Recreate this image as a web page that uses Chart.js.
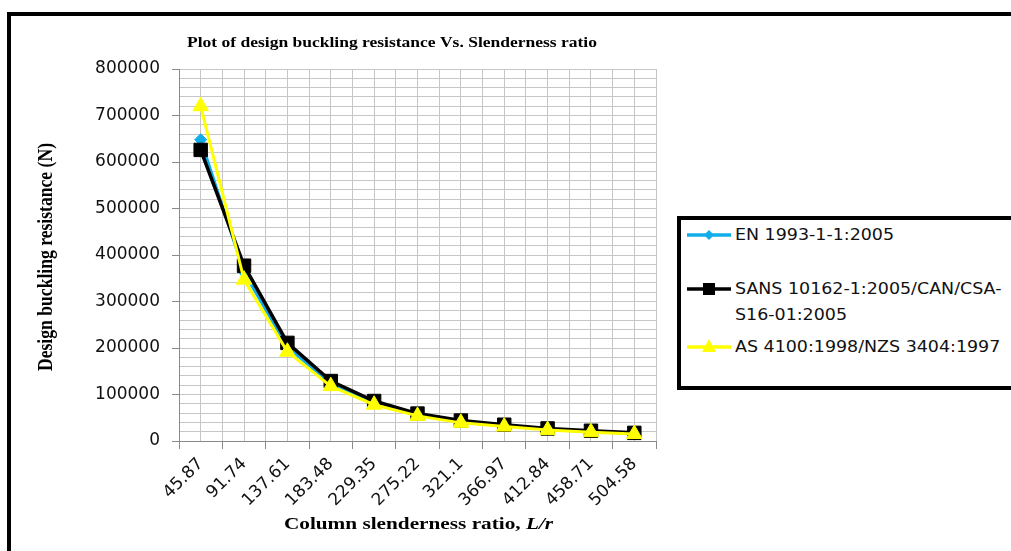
<!DOCTYPE html>
<html>
<head>
<meta charset="utf-8">
<script src="https://cdn.jsdelivr.net/npm/chart.js"></script>
<style>
body { margin: 0; background: #fff; }
#wrap { position: relative; width: 1011px; height: 551px; overflow: hidden; }
#frame { position: absolute; left: 7px; top: 12px; width: 1100px; height: 700px; border: 4px solid #000; box-sizing: border-box; }
#chart { position: absolute; left: 0; top: 0; }
#legend { position: absolute; left: 677px; top: 216px; width: 340px; height: 174px; border: 4px solid #000;
  box-sizing: border-box; background: #fff; font-family: 'DejaVu Sans'; font-size: 16px; color: #111; }
.item { position: absolute; left: 6px; display: flex; align-items: flex-start; line-height: 26px; white-space: nowrap; }
.item svg { flex: none; margin-right: 4px; }
.item div { transform: scaleX(1.09); transform-origin: left center; }
</style>
</head>
<body>
<div id="wrap">
  <div id="frame"></div>
  <canvas id="chart" width="1011" height="551"></canvas>
  <div id="legend"></div>
</div>
<script>
// data
const categories = ['45.87', '91.74', '137.61', '183.48', '229.35', '275.22', '321.1', '366.97', '412.84', '458.71', '504.58'];
const enValues   = [648000, 363000, 202000, 124000, 83000, 57000, 42000, 33000, 25000, 20000, 16000];
const sansValues = [626000, 377000, 211000, 129000, 86000, 59000, 44000, 35000, 27000, 22000, 17500];
const asValues   = [720000, 347000, 192000, 118000, 78000, 54000, 39000, 31000, 23500, 19000, 15000];

const seriesNames  = ['EN 1993-1-1:2005', 'SANS 10162-1:2005/CAN/CSA-\nS16-01:2005', 'AS 4100:1998/NZS 3404:1997'];
const seriesColors = ['#10aee8', '#000000', '#ffff00'];
const seriesStyles = ['rectRot', 'rect', 'triangle'];

const yMax = 800000;
const yMajor = 100000;
const yMinor = 20000;

const chartTitle = 'Plot of design buckling resistance Vs. Slenderness ratio';
const yTitle = 'Design buckling resistance (N)';
const xTitle = 'Column slenderness ratio, ';
const xTitleItalic = 'L/r';

function toPoints(values) {
    return values.map((v, i) => ({ x: i + 0.5, y: v }));
}

const gridGray = '#c6c6c6';
const axisGray = '#8a8a8a';
const stretch = 1.25; // the original text is drawn a bit wide

// titles drawn by hand so the x title can mix bold and italic
const titlesPlugin = {
    id: 'titles',
    afterDraw(chart) {
        const ctx = chart.ctx;
        const area = chart.chartArea;
        ctx.save();
        ctx.fillStyle = '#000';
        ctx.textBaseline = 'middle';
        ctx.textAlign = 'center';

        ctx.save();
        ctx.translate(392, 43);
        ctx.scale(stretch, 1);
        ctx.font = 'bold 14px "Liberation Serif"';
        ctx.fillText(chartTitle, 0, 0);
        ctx.restore();

        ctx.save();
        ctx.translate((area.left + area.right) / 2 + 1, 525);
        ctx.scale(stretch, 1);
        ctx.font = 'bold 17px "Liberation Serif"';
        const w1 = ctx.measureText(xTitle).width;
        ctx.font = 'bold italic 17px "Liberation Serif"';
        const w2 = ctx.measureText(xTitleItalic).width;
        const x0 = -(w1 + w2) / 2;
        ctx.textAlign = 'left';
        ctx.font = 'bold 17px "Liberation Serif"';
        ctx.fillText(xTitle, x0, 0);
        ctx.font = 'bold italic 17px "Liberation Serif"';
        ctx.fillText(xTitleItalic, x0 + w1, 0);
        ctx.restore();

        ctx.translate(47, (area.top + area.bottom) / 2 + 2);
        ctx.rotate(-Math.PI / 2);
        ctx.scale(1.1, stretch);
        ctx.font = 'bold 16px "Liberation Serif"';
        ctx.fillText(yTitle, 0, 0);
        ctx.restore();
    }
};

const datasets = [enValues, sansValues, asValues].map((vals, i) => ({
    label: seriesNames[i],
    data: toPoints(vals),
    borderColor: seriesColors[i],
    backgroundColor: seriesColors[i],
    pointStyle: seriesStyles[i],
    pointRadius: [6, 9.5, 9][i],
    pointBorderWidth: 1,
    borderWidth: [3, 3.5, 3][i],
    tension: 0,
    order: 3 - i
}));

new Chart(document.getElementById('chart'), {
    type: 'line',
    data: { datasets: datasets },
    plugins: [titlesPlugin],
    options: {
        responsive: false,
        animation: false,
        layout: { padding: { left: 0, top: 69, right: 355, bottom: 0 } },
        plugins: { legend: { display: false }, tooltip: { enabled: false }, title: { display: false } },
        scales: {
            x: {
                type: 'linear',
                min: 0,
                max: categories.length,
                afterFit: function (scale) { scale.height = 110; },
                grid: {
                    color: gridGray,
                    lineWidth: 1,
                    tickLength: 8,
                    tickColor: ctx => (ctx.tick && ctx.tick.value % 1 === 0) ? axisGray : 'rgba(0,0,0,0)'
                },
                border: { color: axisGray, width: 1 },
                ticks: {
                    stepSize: 0.5,
                    autoSkip: false,
                    maxRotation: 45,
                    minRotation: 45,
                    padding: 5,
                    color: '#111',
                    font: { family: 'DejaVu Sans', size: 17 },
                    callback: function (value) {
                        if (value % 1 === 0.5) return categories[Math.floor(value)];
                        return '';
                    }
                }
            },
            y: {
                min: 0,
                max: yMax,
                afterFit: function (scale) { scale.width = 179; },
                grid: {
                    color: gridGray,
                    lineWidth: 1,
                    tickLength: 7,
                    tickColor: ctx => (ctx.tick && ctx.tick.value % yMajor === 0) ? axisGray : 'rgba(0,0,0,0)'
                },
                border: { color: axisGray, width: 1 },
                ticks: {
                    stepSize: yMinor,
                    autoSkip: false,
                    padding: 12,
                    color: '#111',
                    font: { family: 'DejaVu Sans', size: 17 },
                    callback: function (value) {
                        return value % yMajor === 0 ? String(value) : '';
                    }
                }
            }
        }
    }
});

// legend box, built from the series lists
const legendRows = [2, 56, 114];
const legend = document.getElementById('legend');
seriesNames.forEach((name, i) => {
    const c = seriesColors[i];
    let marker;
    if (seriesStyles[i] === 'rectRot') marker = `<polygon points="22,8 27,13 22,18 17,13" fill="${c}"/>`;
    else if (seriesStyles[i] === 'rect') marker = `<rect x="16" y="7" width="12" height="12" fill="${c}"/>`;
    else marker = `<polygon points="22,5 29,18 15,18" fill="${c}"/>`;
    const item = document.createElement('div');
    item.className = 'item';
    item.style.top = legendRows[i] + 'px';
    item.innerHTML = `<svg width="44" height="26"><line x1="0" y1="13" x2="44" y2="13" stroke="${c}" stroke-width="3.5"/>${marker}</svg>`;
    const text = document.createElement('div');
    text.innerHTML = name.split('\n').join('<br>');
    item.appendChild(text);
    legend.appendChild(item);
});
</script>
</body>
</html>
